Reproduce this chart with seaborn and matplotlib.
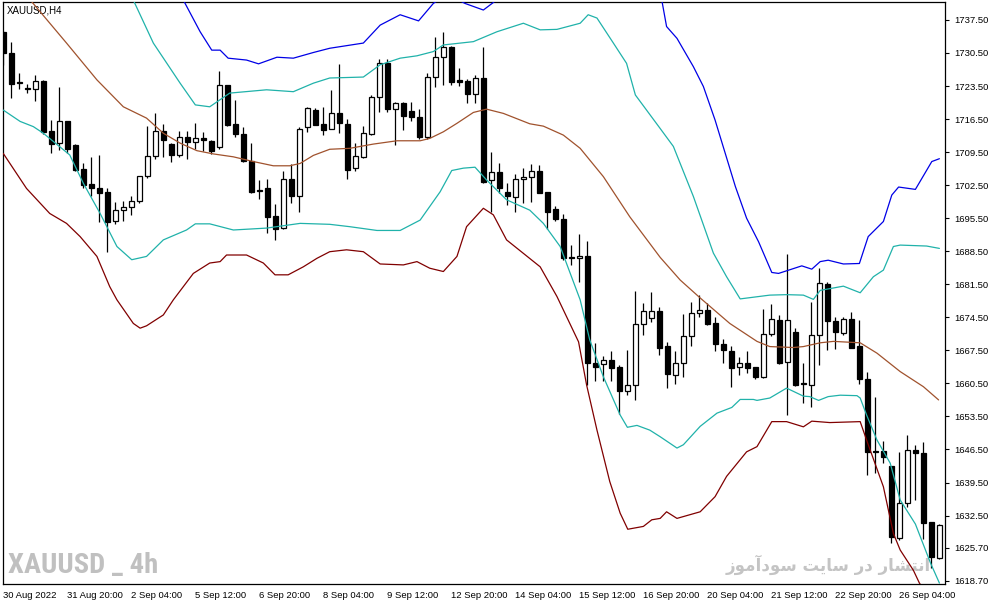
import matplotlib
matplotlib.use("Agg")
import numpy as np
import pandas as pd
import seaborn as sns
import matplotlib.pyplot as plt
from matplotlib import font_manager

# ---------------- data (XAUUSD, H4) ----------------
opens = [1735.0, 1730.4, 1724.4, 1723.1, 1722.8, 1724.6, 1714.0, 1711.4, 1716.0, 1711.0,
         1705.9, 1702.7, 1701.8, 1701.0, 1694.8, 1697.2, 1697.8, 1699.1, 1704.4, 1708.6,
         1713.9, 1711.2, 1708.8, 1712.6, 1711.7, 1712.5, 1711.8, 1710.5, 1723.7, 1715.5,
         1713.3, 1707.7, 1701.5, 1701.8, 1696.0, 1693.5, 1703.9, 1700.1, 1714.9, 1718.4,
         1715.5, 1714.5, 1717.7, 1715.4, 1706.1, 1708.4, 1713.3, 1721.1, 1728.3, 1718.6,
         1719.9, 1718.2, 1716.9, 1712.6, 1725.5, 1729.6, 1731.7, 1724.8, 1724.6, 1721.8,
         1725.1, 1703.5, 1705.2, 1701.0, 1699.9, 1703.7, 1704.2, 1705.6, 1701.0, 1697.4,
         1695.3, 1687.3, 1687.0, 1687.5, 1664.8, 1664.6, 1665.4, 1663.9, 1658.8, 1660.1,
         1673.0, 1674.3, 1675.8, 1668.4, 1662.3, 1664.8, 1670.6, 1675.4, 1676.1, 1673.2,
         1668.8, 1667.4, 1663.9, 1664.8, 1663.9, 1661.8, 1670.9, 1673.9, 1665.0, 1671.3,
         1660.45, 1660.2, 1670.8, 1681.6, 1673.8, 1671.1, 1674.1, 1668.4, 1661.4, 1646.1,
         1646.2, 1643.0, 1627.7, 1635.1, 1646.4, 1645.7, 1631.1, 1623.5]
highs = [1735.2, 1732.8, 1726.2, 1723.9, 1725.8, 1724.7, 1716.3, 1723.2, 1716.0, 1711.2,
         1707.1, 1708.4, 1708.8, 1701.8, 1698.9, 1699.1, 1700.2, 1704.4, 1715.0, 1717.7,
         1715.5, 1711.4, 1714.0, 1714.0, 1715.6, 1713.8, 1712.1, 1726.7, 1723.7, 1720.6,
         1714.9, 1711.5, 1703.6, 1703.7, 1698.5, 1705.4, 1707.0, 1714.8, 1719.1, 1718.8,
         1719.1, 1722.7, 1728.2, 1716.5, 1711.4, 1715.0, 1721.6, 1729.2, 1729.2, 1720.2,
         1720.1, 1720.1, 1718.6, 1726.2, 1733.8, 1735.0, 1732.0, 1727.3, 1724.9, 1725.9,
         1731.7, 1709.5, 1707.1, 1702.9, 1704.9, 1706.1, 1707.0, 1706.7, 1701.1, 1698.1,
         1696.3, 1689.8, 1692.2, 1690.7, 1669.0, 1666.2, 1667.4, 1664.3, 1667.6, 1680.1,
         1677.5, 1679.9, 1676.6, 1669.3, 1667.4, 1675.2, 1677.8, 1679.2, 1677.6, 1674.6,
         1670.0, 1668.4, 1666.0, 1667.3, 1664.0, 1676.2, 1677.3, 1675.0, 1687.9, 1672.2,
         1664.8, 1677.8, 1684.9, 1681.9, 1674.5, 1674.5, 1675.7, 1673.9, 1663.0, 1657.7,
         1648.3, 1643.0, 1645.9, 1649.6, 1647.5, 1648.0, 1631.1, 1630.7]
lows = [1728.0, 1720.9, 1722.8, 1722.1, 1720.4, 1713.3, 1709.4, 1710.0, 1709.4, 1705.6,
        1701.8, 1700.1, 1694.6, 1688.4, 1694.3, 1694.8, 1696.1, 1698.7, 1704.0, 1708.0,
        1708.5, 1707.5, 1708.4, 1708.0, 1710.2, 1709.8, 1709.1, 1710.2, 1715.0, 1712.6,
        1707.3, 1700.8, 1699.5, 1692.3, 1690.9, 1693.2, 1698.7, 1696.9, 1713.8, 1715.2,
        1713.1, 1714.3, 1713.6, 1703.7, 1705.6, 1708.2, 1713.1, 1717.9, 1718.1, 1711.0,
        1714.2, 1716.0, 1712.2, 1712.2, 1723.2, 1723.7, 1723.7, 1723.5, 1720.0, 1719.9,
        1702.9, 1696.9, 1700.9, 1698.3, 1696.9, 1698.7, 1699.0, 1700.8, 1693.3, 1695.0,
        1686.7, 1685.5, 1681.9, 1660.2, 1661.0, 1661.0, 1661.0, 1654.0, 1658.0, 1656.9,
        1670.8, 1673.6, 1666.5, 1659.5, 1660.4, 1661.9, 1668.4, 1674.6, 1672.9, 1667.4,
        1664.9, 1659.7, 1662.3, 1662.6, 1661.4, 1661.6, 1670.6, 1664.6, 1653.7, 1660.0,
        1656.4, 1655.4, 1664.5, 1667.6, 1667.7, 1670.8, 1667.9, 1660.4, 1641.0, 1641.6,
        1643.6, 1626.6, 1627.4, 1634.4, 1635.8, 1627.5, 1621.3, 1623.4]
closes = [1730.4, 1723.9, 1724.1, 1722.8, 1724.6, 1713.8, 1711.2, 1716.0, 1710.2, 1705.7,
          1702.5, 1701.8, 1700.8, 1694.6, 1697.2, 1697.8, 1699.1, 1704.4, 1708.6, 1713.9,
          1712.0, 1708.8, 1712.6, 1711.7, 1712.4, 1712.0, 1709.8, 1723.7, 1715.3, 1713.3,
          1707.6, 1701.1, 1701.2, 1695.8, 1693.2, 1703.9, 1700.1, 1714.5, 1718.8, 1715.3,
          1714.2, 1717.7, 1715.6, 1705.7, 1708.7, 1713.5, 1721.1, 1728.3, 1718.6, 1719.9,
          1717.2, 1716.9, 1712.6, 1725.5, 1729.6, 1731.7, 1724.4, 1724.4, 1721.8, 1725.1,
          1703.2, 1705.2, 1702.0, 1700.1, 1703.7, 1704.2, 1705.6, 1700.9, 1696.8, 1695.3,
          1687.0, 1687.0, 1687.4, 1664.8, 1663.9, 1665.4, 1663.8, 1658.8, 1660.1, 1673.0,
          1675.8, 1675.8, 1668.1, 1662.4, 1664.8, 1670.6, 1675.4, 1676.1, 1673.1, 1668.8,
          1667.6, 1663.7, 1664.8, 1663.7, 1661.8, 1670.9, 1674.1, 1664.9, 1673.9, 1660.2,
          1660.3, 1670.7, 1681.7, 1673.8, 1671.3, 1674.1, 1668.1, 1661.4, 1645.9, 1645.9,
          1644.9, 1627.9, 1635.1, 1646.3, 1645.7, 1630.9, 1623.7, 1630.4]

# Bollinger lines: (bar index, price)
mid_bar = [0, 7.9, 11.7, 15.0, 17.9, 20.0, 22.1, 24.2, 26.3, 28.75, 31.25, 33.75, 35.8, 37.1,
           38.75, 40.8, 43.3, 46.25, 49.2, 52.1, 53.3, 55.0, 56.7, 58.75, 60.4, 62.5, 65.8,
           67.5, 70.0, 72.1, 75.0, 78.3, 82.1, 84.6, 87.1, 90.8, 94.2, 95.8, 98.75, 100.0,
           102.1, 103.75, 107.1, 109.2, 112.1, 115.0, 116.9]
mid_val = [1748.5, 1732.6, 1724.8, 1719.1, 1716.7, 1713.5, 1711.4, 1709.8, 1709.1, 1708.5,
           1707.5, 1706.6, 1706.6, 1707.1, 1708.8, 1710.1, 1710.3, 1711.2, 1711.9, 1711.9,
           1712.4, 1713.8, 1715.6, 1717.9, 1718.6, 1717.7, 1715.5, 1715.0, 1713.1, 1710.3,
           1704.3, 1695.8, 1687.2, 1682.4, 1678.6, 1673.2, 1669.4, 1668.3, 1668.1, 1668.3,
           1669.1, 1669.4, 1669.1, 1666.9, 1663.0, 1659.8, 1657.0]

up1_bar = [0, 10, 14, 16.25, 18.75, 22.1, 24.0, 25.8, 28.3, 32.9, 36.25, 38.75, 40.8, 45.0,
           47.1, 49.6, 51.7, 53.75, 55.0, 58.75, 61.7, 65.0, 67.1, 69.2, 72.1, 73.1, 74.2,
           76.25, 77.9, 79.0, 82.1, 83.75, 86.25, 88.75, 90.4, 92.1, 95.8, 97.9, 100.0,
           101.25, 102.1, 105.0, 107.1, 108.75, 110.0, 111.25, 112.1, 115.4, 117.0]
up1_val = [1775.0, 1757.0, 1749.5, 1741.7, 1732.6, 1724.1, 1719.5, 1719.1, 1722.0, 1722.7,
           1722.3, 1724.1, 1725.2, 1725.4, 1728.0, 1729.4, 1729.9, 1730.8, 1732.2, 1732.9,
           1735.0, 1736.8, 1735.4, 1735.5, 1736.8, 1738.6, 1737.9, 1732.6, 1728.3, 1721.6,
           1714.5, 1710.7, 1700.1, 1688.1, 1683.1, 1678.4, 1679.2, 1679.3, 1679.2, 1678.3,
           1680.2, 1681.1, 1679.7, 1683.1, 1684.5, 1689.5, 1689.8, 1689.6, 1689.1]

up2_bar = [0, 12, 18, 22.5, 24.6, 26.05, 27.1, 28.1, 30.4, 31.9, 34.2, 36.25, 38.75, 40.8,
           45.0, 47.1, 49.6, 51.9, 53.75, 55.5, 57.7, 60.0, 61.25, 63.0, 68.0, 75.0, 81.5,
           82.3, 82.9, 84.2, 86.25, 87.5, 88.96, 91.5, 92.9, 94.4, 96.05, 96.9, 99.8, 101.05,
           102.1, 103.1, 105.0, 107.0, 108.1, 110.0, 111.05, 111.9, 114.0, 116.05, 117.0]
up2_val = [1805.0, 1775.0, 1755.0, 1741.7, 1735.0, 1731.1, 1731.1, 1729.4, 1729.0, 1728.2,
           1729.6, 1729.4, 1730.6, 1731.5, 1732.6, 1736.4, 1738.6, 1737.3, 1741.0, 1743.0,
           1741.0, 1739.6, 1741.2, 1744.0, 1749.0, 1752.0, 1746.5, 1741.7, 1736.1, 1733.6,
           1727.6, 1723.4, 1716.3, 1702.2, 1695.5, 1690.5, 1684.0, 1683.8, 1685.4, 1684.7,
           1686.3, 1686.6, 1685.8, 1685.9, 1691.6, 1694.8, 1700.4, 1702.1, 1701.6, 1707.5,
           1708.1]

lo1_bar = [0, 2.1, 3.75, 5.0, 8.3, 10.0, 12.1, 14.2, 16.05, 17.9, 20.0, 22.9, 24.0, 25.8,
           28.75, 32.9, 37.1, 40.8, 43.3, 46.7, 49.6, 52.1, 54.6, 56.05, 57.5, 58.96, 60.4,
           62.9, 65.8, 67.5, 69.6, 72.1, 73.3, 75.0, 77.1, 78.0, 79.2, 80.8, 82.1, 84.2, 85.0,
           87.1, 89.2, 91.05, 92.1, 93.75, 94.2, 95.8, 97.9, 100.0, 100.8, 101.9, 103.1,
           104.6, 106.7, 107.1, 107.9, 109.2, 110.85, 112.1, 114.0, 115.9, 117.0]
lo1_val = [1718.4, 1716.0, 1714.9, 1713.5, 1708.9, 1702.9, 1696.5, 1689.5, 1686.7, 1687.4,
           1690.9, 1693.0, 1694.3, 1694.3, 1693.0, 1693.4, 1694.4, 1694.2, 1693.7, 1692.9,
           1692.9, 1695.1, 1701.1, 1705.6, 1706.1, 1706.3, 1703.6, 1699.4, 1697.2, 1694.4,
           1689.5, 1678.2, 1669.7, 1661.9, 1653.8, 1651.2, 1651.6, 1650.6, 1649.2, 1646.8,
           1647.5, 1651.4, 1654.2, 1655.4, 1657.1, 1657.1, 1656.9, 1657.4, 1659.5, 1657.8,
           1657.7, 1656.9, 1657.7, 1658.0, 1657.9, 1657.4, 1653.8, 1648.5, 1643.6, 1635.8,
           1630.7, 1622.4, 1618.2]

lo2_bar = [0, 2.9, 5.8, 7.9, 9.6, 11.7, 13.3, 14.2, 16.25, 17.1, 17.9, 20.0, 21.25, 23.75,
           25.8, 27.1, 27.9, 30.4, 32.5, 33.96, 35.6, 37.5, 39.2, 40.8, 42.9, 45.0, 47.1,
           50.0, 51.7, 53.3, 55.0, 56.7, 57.9, 60.0, 61.25, 62.9, 67.1, 69.2, 71.9, 72.9,
           74.2, 75.8, 77.1, 78.05, 80.0, 81.05, 82.1, 82.9, 84.2, 87.1, 88.96, 90.4, 92.9,
           94.2, 96.05, 97.9, 100.0, 101.05, 103.3, 107.1, 107.9, 110.0, 111.25, 112.1,
           113.75, 114.5, 117.0]
lo2_val = [1709.2, 1701.8, 1696.5, 1694.4, 1691.6, 1687.4, 1681.0, 1678.2, 1673.2, 1672.2,
           1672.7, 1675.0, 1678.2, 1683.8, 1686.0, 1686.3, 1687.7, 1687.7, 1686.0, 1683.5,
           1683.5, 1685.2, 1687.0, 1688.4, 1688.8, 1688.4, 1685.8, 1685.6, 1686.3, 1684.9,
           1684.2, 1687.4, 1693.7, 1697.6, 1696.2, 1690.9, 1685.2, 1678.9, 1669.3, 1660.2,
           1650.6, 1639.7, 1633.0, 1629.6, 1630.2, 1631.6, 1631.9, 1633.3, 1631.9, 1633.3,
           1636.5, 1640.8, 1646.0, 1647.1, 1652.4, 1652.4, 1651.3, 1652.5, 1652.2, 1652.4,
           1648.5, 1638.6, 1628.7, 1625.2, 1620.9, 1618.2, 1612.0]

price_ticks = [1737.50, 1730.50, 1723.50, 1716.50, 1709.50, 1702.50, 1695.50, 1688.50,
               1681.50, 1674.50, 1667.50, 1660.50, 1653.50, 1646.50, 1639.50, 1632.50,
               1625.70, 1618.70]
date_tick_bars = [0, 8, 16, 24, 32, 40, 48, 56, 64, 72, 80, 88, 96, 104, 112]
date_tick_labels = ["30 Aug 2022", "31 Aug 20:00", "2 Sep 04:00", "5 Sep 12:00",
                    "6 Sep 20:00", "8 Sep 04:00", "9 Sep 12:00", "12 Sep 20:00",
                    "14 Sep 04:00", "15 Sep 12:00", "16 Sep 20:00", "20 Sep 04:00",
                    "21 Sep 12:00", "22 Sep 20:00", "26 Sep 04:00"]
chart_title = "XAUUSD,H4"
watermark_en = "XAUUSD _ 4h"
watermark_fa_logical = "انتشار در سایت سودآموز"
# same text in Arabic presentation forms (logical order); matplotlib does no Arabic shaping
watermark_fa_shaped = ("\uFE8D\uFEE7\uFE98\uFEB8\uFE8E\uFEAD \uFEA9\uFEAD "
                       "\uFEB3\uFE8E\uFEF3\uFE96 \uFEB3\uFEEE\uFEA9\uFE81\uFEE3\uFEEE\uFEAF")

# ---------------- plotting ----------------
sns.set_style("white")
plt.rcParams['font.family'] = ['Liberation Sans', 'DejaVu Sans']

installed = {f.name for f in font_manager.fontManager.ttflist}
narrow_fams = [f for f in ["Liberation Sans Narrow", "DejaVu Sans Condensed",
                           "Roboto Condensed", "Open Sans Condensed"] if f in installed]
wm_family = narrow_fams[:1] + ["DejaVu Sans"]
wm_size = 20.5 if narrow_fams else 15.5

W, H = 991, 605
fig = plt.figure(figsize=(W / 100, H / 100), dpi=100)
ax = fig.add_axes([3 / W, (H - 584) / H, 942 / W, 582 / H])

df = pd.DataFrame({"bar": np.arange(len(opens)), "open": opens, "high": highs,
                   "low": lows, "close": closes})
bull = df["close"] > df["open"]
body_low = np.minimum(df["open"], df["close"])
body_h = np.maximum(np.abs(df["close"] - df["open"]), 0.22)

ax.vlines(df["bar"], df["low"], df["high"], color="black", linewidth=0.9, zorder=2)
ax.bar(df["bar"], body_h, bottom=body_low, width=0.56,
       color=np.where(bull, "white", "black"), edgecolor="black", linewidth=0.9, zorder=3)

bands = [(mid_bar, mid_val, "#A0522D"), (up1_bar, up1_val, "#20B2AA"),
         (lo1_bar, lo1_val, "#20B2AA"), (up2_bar, up2_val, "#0000E6"),
         (lo2_bar, lo2_val, "#800000")]
for bx, by, col in bands:
    sns.lineplot(x=bx, y=by, ax=ax, color=col, linewidth=0.9, estimator=None,
                 sort=False, zorder=4)

ax.set_xlim(-0.04, 117.7)
ax.set_ylim(1618.0, 1741.3)

ax.yaxis.tick_right()
ax.set_yticks(price_ticks)
ax.set_yticklabels([f"{p:.2f}" for p in price_ticks])
ax.set_xticks(date_tick_bars)
ax.set_xticklabels(date_tick_labels, ha="left")
ax.tick_params(axis="both", direction="out", length=3, width=0.8, labelsize=6.8,
               colors="black")
ax.tick_params(axis="y", pad=3.5)
ax.tick_params(axis="x", pad=2)
ax.set_xlabel("")
ax.set_ylabel("")
for s in ax.spines.values():
    s.set_visible(True)
    s.set_color("black")
    s.set_linewidth(0.9)
ax.grid(False)

ax.text(7 / W, 1 - 10.5 / H, chart_title, fontsize=7, color="black", va="center",
        ha="left", transform=fig.transFigure)
ax.text(8 / W, 1 - 566 / H, watermark_en, fontsize=wm_size, color="#c0c0c0",
        fontweight="bold", family=wm_family, va="center", ha="left",
        transform=fig.transFigure, zorder=1)
ax.text(931 / W, 1 - 565 / H, watermark_fa_shaped[::-1], fontsize=12, color="#c4c4c4",
        fontweight="bold", family=["DejaVu Sans"], va="center", ha="right",
        transform=fig.transFigure, zorder=1)

fig.savefig("out.png", dpi=100)
